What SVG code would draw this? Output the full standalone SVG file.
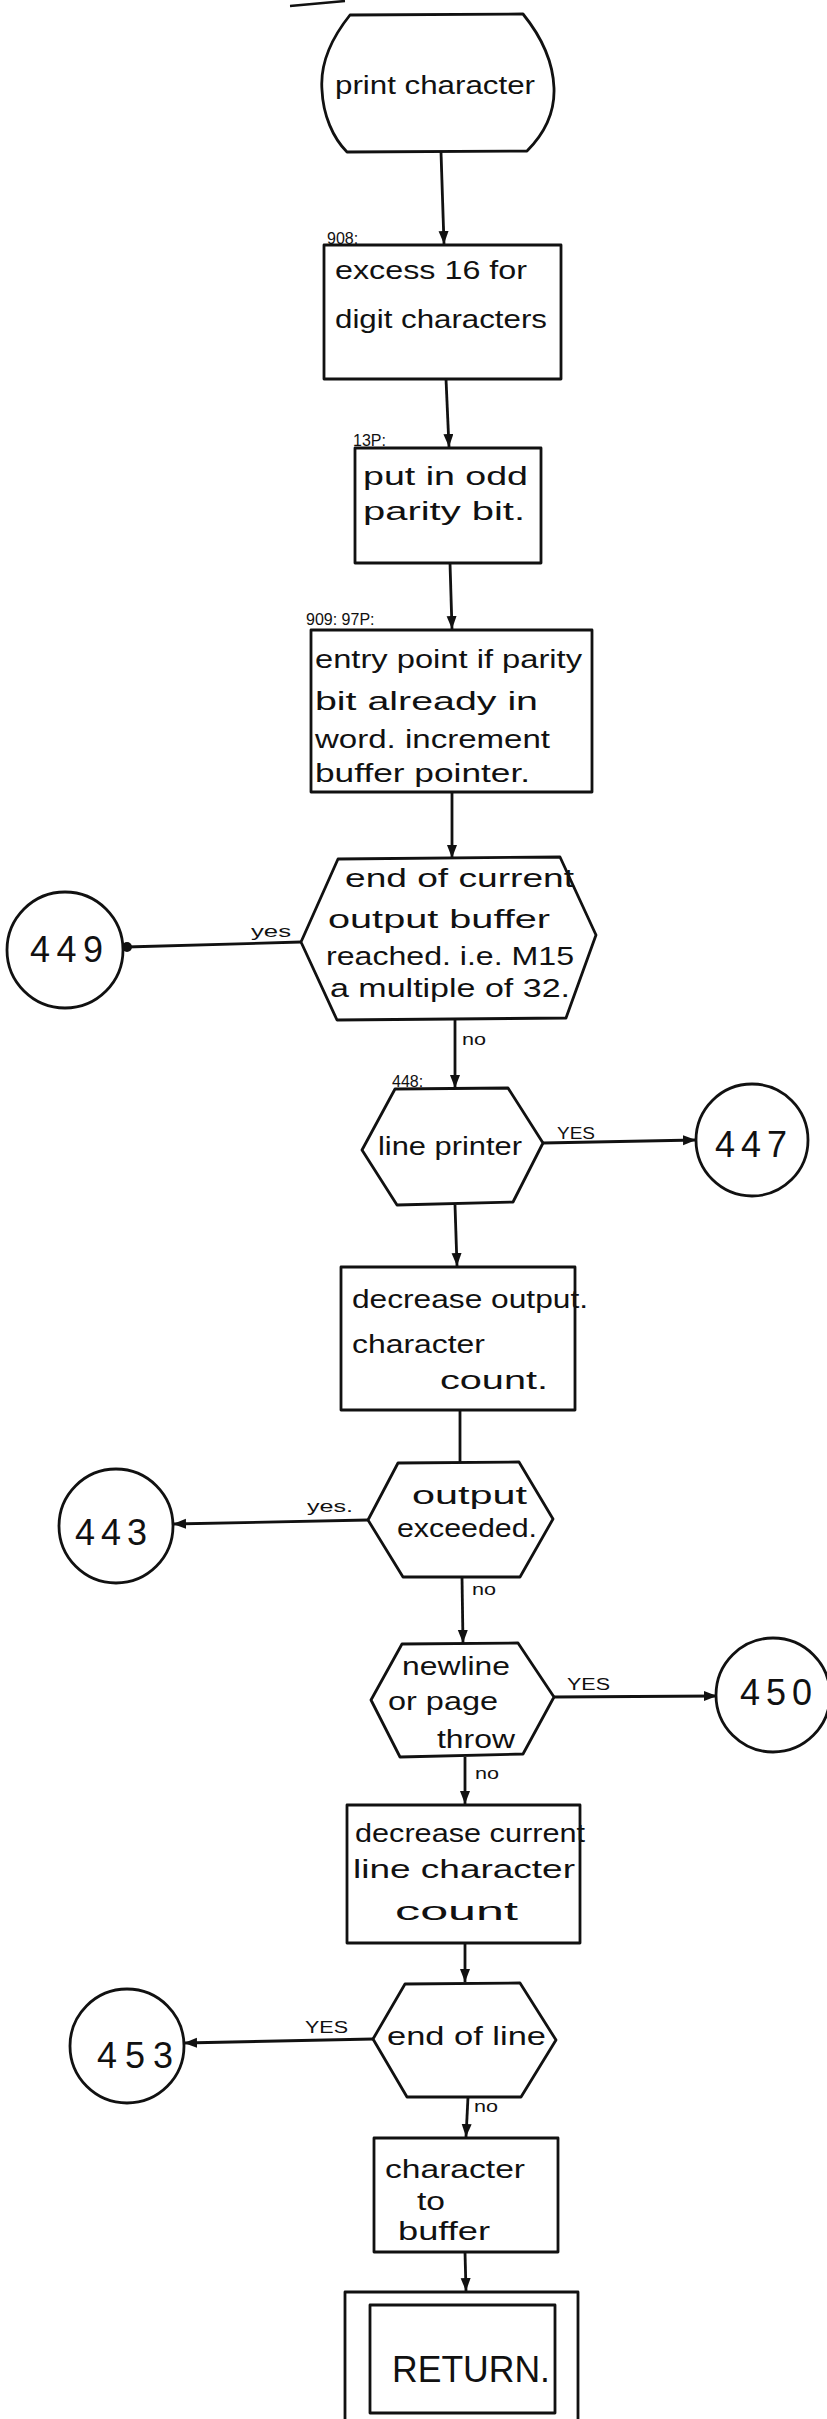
<svg xmlns="http://www.w3.org/2000/svg" width="827" height="2419" viewBox="0 0 827 2419">
<defs>
<marker id="ah" markerUnits="userSpaceOnUse" markerWidth="14" markerHeight="12" refX="13" refY="5" orient="auto">
<path d="M0,0 L13,5 L0,10 z" fill="#111"/>
</marker>
<style>
.s{fill:#fff;stroke:#111;stroke-width:2.8;stroke-linejoin:round}
.c{fill:none;stroke:#111;stroke-width:2.8}
.t{font-family:"Liberation Sans","DejaVu Sans",sans-serif;fill:#111;font-size:25px}
.sm{font-family:"Liberation Sans","DejaVu Sans",sans-serif;fill:#111;font-size:16px}
.n{font-family:"Liberation Sans","DejaVu Sans",sans-serif;fill:#111;font-size:36px}
</style>
</defs>
<rect width="827" height="2419" fill="#fff"/>
<path d="M290,6 L345,1" stroke="#111" stroke-width="2.5" fill="none"/>

<g id="connectors">
<path class="c" d="M441,152 L444,244" marker-end="url(#ah)"/>
<path class="c" d="M446,379 L449,447" marker-end="url(#ah)"/>
<path class="c" d="M450,563 L452,629" marker-end="url(#ah)"/>
<path class="c" d="M452,792 L452,858" marker-end="url(#ah)"/>
<path class="c" d="M301,942 L126,947"/>
<circle cx="127" cy="947" r="5" fill="#111"/>
<path class="c" d="M455,1019 L455,1088" marker-end="url(#ah)"/>
<path class="c" d="M543,1143 L696,1140" marker-end="url(#ah)"/>
<path class="c" d="M455,1205 L457,1266" marker-end="url(#ah)"/>
<path class="c" d="M460,1410 L460,1463"/>
<path class="c" d="M368,1520 L173,1524" marker-end="url(#ah)"/>
<path class="c" d="M462,1577 L463,1643" marker-end="url(#ah)"/>
<path class="c" d="M554,1697 L717,1696" marker-end="url(#ah)"/>
<path class="c" d="M465,1757 L465,1804" marker-end="url(#ah)"/>
<path class="c" d="M465,1943 L465,1982" marker-end="url(#ah)"/>
<path class="c" d="M373,2039 L184,2043" marker-end="url(#ah)"/>
<path class="c" d="M468,2097 L466,2137" marker-end="url(#ah)"/>
<path class="c" d="M465,2252 L466,2291" marker-end="url(#ah)"/>
<text class="sm" x="251" y="937" textLength="40" lengthAdjust="spacingAndGlyphs">yes</text>
<text class="sm" x="462" y="1045" textLength="24" lengthAdjust="spacingAndGlyphs">no</text>
<text class="sm" x="557" y="1139" textLength="38" lengthAdjust="spacingAndGlyphs">YES</text>
<text class="sm" x="307" y="1512" textLength="46" lengthAdjust="spacingAndGlyphs">yes.</text>
<text class="sm" x="472" y="1595" textLength="24" lengthAdjust="spacingAndGlyphs">no</text>
<text class="sm" x="567" y="1690" textLength="43" lengthAdjust="spacingAndGlyphs">YES</text>
<text class="sm" x="475" y="1779" textLength="24" lengthAdjust="spacingAndGlyphs">no</text>
<text class="sm" x="305" y="2033" textLength="43" lengthAdjust="spacingAndGlyphs">YES</text>
<text class="sm" x="474" y="2112" textLength="24" lengthAdjust="spacingAndGlyphs">no</text>
</g>

<g id="start">
<path class="s" d="M350,15 L523,14 C540,35 553,60 554,88 C555,115 543,135 527,151 L347,152 C333,138 323,115 322,90 C320,65 330,40 350,15 Z"/>
<text class="t" x="335" y="94" textLength="200" lengthAdjust="spacingAndGlyphs" font-size="28">print character</text>
</g>

<g id="n908">
<rect class="s" x="324" y="245" width="237" height="134"/>
<text class="sm" x="327" y="244">908:</text>
<text class="t" x="335" y="279" textLength="192" lengthAdjust="spacingAndGlyphs">excess 16 for</text>
<text class="t" x="335" y="328" textLength="212" lengthAdjust="spacingAndGlyphs">digit characters</text>
</g>

<g id="n13p">
<rect class="s" x="355" y="448" width="186" height="115"/>
<text class="sm" x="353" y="446">13P:</text>
<text class="t" x="363" y="485" textLength="165" lengthAdjust="spacingAndGlyphs">put in odd</text>
<text class="t" x="363" y="520" textLength="162" lengthAdjust="spacingAndGlyphs">parity bit.</text>
</g>

<g id="n909">
<rect class="s" x="311" y="630" width="281" height="162"/>
<text class="sm" x="306" y="625">909: 97P:</text>
<text class="t" x="315" y="668" textLength="267" lengthAdjust="spacingAndGlyphs">entry point if parity</text>
<text class="t" x="315" y="710" textLength="223" lengthAdjust="spacingAndGlyphs">bit already in</text>
<text class="t" x="315" y="748" textLength="235" lengthAdjust="spacingAndGlyphs">word. increment</text>
<text class="t" x="315" y="782" textLength="215" lengthAdjust="spacingAndGlyphs">buffer pointer.</text>
</g>

<g id="d-buffer">
<path class="s" d="M338,859 L560,857 L596,935 L566,1018 L337,1020 L301,942 Z"/>
<text class="t" x="345" y="887" textLength="229" lengthAdjust="spacingAndGlyphs">end of current</text>
<text class="t" x="328" y="928" textLength="222" lengthAdjust="spacingAndGlyphs">output buffer</text>
<text class="t" x="326" y="965" textLength="248" lengthAdjust="spacingAndGlyphs">reached. i.e. M15</text>
<text class="t" x="330" y="997" textLength="240" lengthAdjust="spacingAndGlyphs">a multiple of 32.</text>
</g>

<g id="c449">
<circle class="s" cx="65" cy="950" r="58"/>
<text class="n" x="30" y="962" textLength="73" lengthAdjust="spacing">449</text>
</g>

<g id="d-lineprinter">
<path class="s" d="M395,1089 L508,1088 L543,1143 L513,1202 L397,1205 L362,1150 Z"/>
<text class="sm" x="392" y="1087">448:</text>
<text class="t" x="378" y="1155" textLength="144" lengthAdjust="spacingAndGlyphs">line printer</text>
</g>

<g id="c447">
<circle class="s" cx="752" cy="1140" r="56"/>
<text class="n" x="715" y="1157" textLength="72" lengthAdjust="spacing">447</text>
</g>

<g id="n-decout">
<rect class="s" x="341" y="1267" width="234" height="143"/>
<text class="t" x="352" y="1308" textLength="236" lengthAdjust="spacingAndGlyphs">decrease output.</text>
<text class="t" x="352" y="1353" textLength="133" lengthAdjust="spacingAndGlyphs">character</text>
<text class="t" x="440" y="1389" textLength="108" lengthAdjust="spacingAndGlyphs">count.</text>
</g>

<g id="d-exceeded">
<path class="s" d="M398,1463 L519,1462 L553,1519 L520,1577 L403,1577 L368,1520 Z"/>
<text class="t" x="412" y="1504" textLength="115" lengthAdjust="spacingAndGlyphs">output</text>
<text class="t" x="397" y="1537" textLength="140" lengthAdjust="spacingAndGlyphs">exceeded.</text>
</g>

<g id="c443">
<circle class="s" cx="116" cy="1526" r="57"/>
<text class="n" x="75" y="1545" textLength="72" lengthAdjust="spacing">443</text>
</g>

<g id="d-newline">
<path class="s" d="M402,1644 L518,1643 L554,1697 L523,1754 L400,1757 L371,1700 Z"/>
<text class="t" x="402" y="1675" textLength="108" lengthAdjust="spacingAndGlyphs">newline</text>
<text class="t" x="388" y="1710" textLength="110" lengthAdjust="spacingAndGlyphs">or page</text>
<text class="t" x="437" y="1748" textLength="78" lengthAdjust="spacingAndGlyphs">throw</text>
</g>

<g id="c450">
<circle class="s" cx="773" cy="1695" r="57"/>
<text class="n" x="740" y="1705" textLength="72" lengthAdjust="spacing">450</text>
</g>

<g id="n-decline">
<rect class="s" x="347" y="1805" width="233" height="138"/>
<text class="t" x="355" y="1842" textLength="230" lengthAdjust="spacingAndGlyphs">decrease current</text>
<text class="t" x="353" y="1878" textLength="222" lengthAdjust="spacingAndGlyphs">line character</text>
<text class="t" x="395" y="1920" textLength="123" lengthAdjust="spacingAndGlyphs">count</text>
</g>

<g id="d-endline">
<path class="s" d="M405,1984 L520,1983 L556,2040 L521,2097 L407,2097 L373,2039 Z"/>
<text class="t" x="387" y="2045" textLength="159" lengthAdjust="spacingAndGlyphs">end of line</text>
</g>

<g id="c453">
<circle class="s" cx="127" cy="2046" r="57"/>
<text class="n" x="97" y="2068" textLength="76" lengthAdjust="spacing" font-size="40">453</text>
</g>

<g id="n-tobuffer">
<rect class="s" x="374" y="2138" width="184" height="114"/>
<text class="t" x="385" y="2178" textLength="140" lengthAdjust="spacingAndGlyphs">character</text>
<text class="t" x="417" y="2210" textLength="28" lengthAdjust="spacingAndGlyphs">to</text>
<text class="t" x="398" y="2240" textLength="92" lengthAdjust="spacingAndGlyphs">buffer</text>
</g>

<g id="return">
<rect class="s" x="345" y="2292" width="233" height="140"/>
<rect class="s" x="370" y="2305" width="185" height="108"/>
<text class="n" x="392" y="2382" textLength="158" lengthAdjust="spacingAndGlyphs" font-size="36">RETURN.</text>
</g>
</svg>
